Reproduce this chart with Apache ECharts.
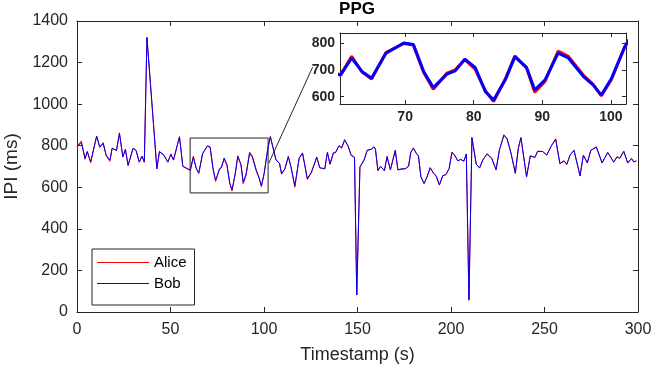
<!DOCTYPE html>
<html><head><meta charset="utf-8">
<script src="https://cdn.jsdelivr.net/npm/echarts@6/dist/echarts.min.js"></script>
<style>html,body{margin:0;padding:0;background:#fff}#c{width:653px;height:371px}</style>
</head><body><div id="c"></div>
<script>
const timestamps = [
0.2,2.3,4.3,5.5,7.3,10.5,12.2,14.0,15.6,17.6,
18.8,21.1,22.7,24.5,25.9,27.3,30.0,31.6,33.3,34.8,
36.0,37.4,42.7,44.1,46.3,48.6,50.2,51.6,54.8,56.6,
60.6,62.2,63.7,65.1,67.2,69.8,71.2,72.7,74.1,76.1,
77.3,78.7,80.2,81.7,82.9,84.6,86.0,87.7,88.9,90.4,
92.3,93.8,96.0,97.4,98.6,100.1,102.0,103.4,106.4,108.3,
109.4,111.2,113.0,114.4,116.5,118.8,120.6,123.2,125.4,128.2,
129.8,132.5,133.9,135.3,137.1,138.3,140.1,141.5,143.1,144.9,
146.6,148.4,149.6,151.3,153.5,155.2,157.4,158.8,159.6,160.9,
162.3,164.4,165.8,167.6,170.2,171.6,173.8,175.5,177.3,178.5,
179.9,181.4,182.6,183.9,185.6,187.1,188.9,190.6,192.0,193.8,
195.6,197.3,199.0,200.5,201.9,203.7,205.1,206.9,208.2,209.6,
211.2,213.5,215.3,217.0,219.3,221.8,224.1,225.9,228.3,230.0,
232.1,234.4,236.0,237.4,240.4,242.4,244.9,246.3,249.0,251.2,
253.7,256.0,258.2,260.5,261.9,263.7,265.8,269.0,270.8,272.9,
274.7,277.7,280.8,283.8,287.0,288.8,290.2,292.4,294.5,296.5,
297.7,299.1];
const bob = [
797,816,739,772,722,846,793,810,755,731,
788,777,859,747,783,706,788,777,722,750,
722,1320,689,772,755,722,760,731,843,701,
681,744,694,669,762,800,794,694,634,684,
696,740,709,619,588,663,748,709,625,663,
762,744,675,644,606,669,784,843,731,714,
665,689,747,698,607,739,764,640,673,744,
694,689,767,711,764,767,800,788,826,800,
755,744,82,698,731,777,783,793,783,681,
701,681,747,684,777,684,689,689,701,767,
788,764,750,651,619,648,694,668,656,612,
656,661,690,767,755,727,734,727,760,60,
838,711,694,731,760,739,684,780,850,833,
764,668,788,838,651,750,744,772,772,755,
800,830,714,727,711,755,777,656,755,717,
777,793,717,767,722,747,739,772,717,739,
722,727];
const alice = [
797,823,735,772,718,846,793,815,752,725,
788,777,862,745,783,704,788,777,720,750,
720,1322,689,772,757,720,760,731,843,701,
683,750,692,666,764,798,792,690,628,688,
700,738,703,622,582,666,752,707,617,657,
770,750,680,646,603,665,786,845,733,716,
663,689,749,700,600,741,766,638,673,746,
694,689,769,711,766,769,800,790,830,800,
753,744,82,696,731,779,783,795,783,679,
701,679,749,684,779,684,687,689,701,769,
790,764,752,649,617,648,694,668,656,610,
656,661,690,770,755,727,734,725,760,56,
840,711,692,731,762,739,684,780,853,833,
764,666,788,840,649,752,744,774,772,755,
800,833,714,727,709,755,779,654,755,717,
777,795,717,769,720,747,739,774,717,739,
722,727];
const seriesNames = ['Alice', 'Bob'];
const mainXTicks = [0, 50, 100, 150, 200, 250, 300];
const mainYTicks = [0, 200, 400, 600, 800, 1000, 1200, 1400];
const insetXRange = [60.5, 102.2];
const insetYRange = [573, 837];
const connectorEnds = [[102.5, 715], [126, 1178]];

const FONT = '"Liberation Sans", Arial, Helvetica, sans-serif';
const AX = '#262626';
const RED = '#ff0000', BLUE = '#0000ff';

const alicePts = timestamps.map((t, i) => [t, alice[i]]);
const bobPts = timestamps.map((t, i) => [t, bob[i]]);
const plain = v => String(v);

function mainX(pos, show) {
  return {
    type: 'value', gridIndex: 0, position: pos,
    min: mainXTicks[0], max: mainXTicks[mainXTicks.length - 1],
    interval: mainXTicks[1] - mainXTicks[0],
    axisLine: { show: true, onZero: false, lineStyle: { color: AX, width: 1 } },
    axisTick: { show: true, inside: true, length: 5, lineStyle: { color: AX } },
    axisLabel: { show: show, fontSize: 16, color: AX, fontFamily: FONT, margin: 10, formatter: plain },
    splitLine: { show: false }
  };
}
function mainY(pos, show) {
  return {
    type: 'value', gridIndex: 0, position: pos,
    min: mainYTicks[0], max: mainYTicks[mainYTicks.length - 1],
    interval: mainYTicks[1] - mainYTicks[0],
    axisLine: { show: true, onZero: false, lineStyle: { color: AX, width: 1 } },
    axisTick: { show: true, inside: true, length: 5, lineStyle: { color: AX } },
    axisLabel: { show: show, fontSize: 16, color: AX, fontFamily: FONT, margin: 9, formatter: plain },
    splitLine: { show: false }
  };
}
function insetX(pos, show) {
  return {
    type: 'value', gridIndex: 1, position: pos, z: 11,
    min: insetXRange[0], max: insetXRange[1], splitNumber: 4,
    axisLine: { show: true, onZero: false, lineStyle: { color: AX, width: 1 } },
    axisTick: { show: true, inside: true, length: 4, lineStyle: { color: AX } },
    axisLabel: { show: show, fontSize: 14, fontWeight: 'bold', color: AX, fontFamily: FONT, margin: 6,
      formatter: v => (Math.abs(v % 10) < 1e-6 ? String(v) : '') },
    splitLine: { show: false }
  };
}
function insetY(pos, show) {
  return {
    type: 'value', gridIndex: 1, position: pos, z: 11,
    min: insetYRange[0], max: insetYRange[1], splitNumber: 3,
    axisLine: { show: true, onZero: false, lineStyle: { color: AX, width: 1 } },
    axisTick: { show: true, inside: true, length: 4, lineStyle: { color: AX } },
    axisLabel: { show: show, fontSize: 14, fontWeight: 'bold', color: AX, fontFamily: FONT, margin: 5,
      formatter: v => (Math.abs(v % 100) < 1e-6 ? String(v) : '') },
    splitLine: { show: false }
  };
}

const xMain = mainX('bottom', true);
xMain.name = 'Timestamp (s)';
xMain.nameLocation = 'middle';
xMain.nameGap = 34;
xMain.nameTextStyle = { fontSize: 18, color: AX, fontFamily: FONT };
const yMain = mainY('left', true);
yMain.name = 'IPI (ms)';
yMain.nameLocation = 'middle';
yMain.nameGap = 47;
yMain.nameTextStyle = { fontSize: 19, color: AX, fontFamily: FONT };

const chart = echarts.init(document.getElementById('c'), null, { renderer: 'canvas' });
chart.setOption({
  animation: false,
  backgroundColor: '#fff',
  textStyle: { fontFamily: FONT },
  title: {
    text: 'PPG', left: 357, top: 1, padding: 0, textAlign: 'center',
    textStyle: { fontSize: 17, fontWeight: 'bold', color: '#000', fontFamily: FONT }
  },
  legend: {
    data: seriesNames, orient: 'vertical', left: 92, top: 249,
    padding: [6, 8, 14, 5], itemGap: 6, itemWidth: 52, itemHeight: 1, icon: 'rect',
    borderColor: AX, borderWidth: 1, backgroundColor: '#fff',
    textStyle: { fontSize: 15, color: '#000', fontFamily: FONT, lineHeight: 14 }
  },
  grid: [
    { left: 77, right: 15, top: 21, bottom: 59, containLabel: false, outerBoundsMode: 'none' },
    { left: 340, top: 33, width: 286, height: 71, containLabel: false, outerBoundsMode: 'none', show: true,
      backgroundColor: '#fff', borderWidth: 0, z: 10 }
  ],
  xAxis: [xMain, mainX('top', false), insetX('bottom', true), insetX('top', false)],
  yAxis: [yMain, mainY('right', false), insetY('left', true), insetY('right', false)],
  series: [
    { name: seriesNames[0], type: 'line', xAxisIndex: 0, yAxisIndex: 0, data: alicePts,
      symbol: 'none', showSymbol: false, color: RED, lineStyle: { color: RED, width: 1 }, z: 2 },
    { name: seriesNames[1], type: 'line', xAxisIndex: 0, yAxisIndex: 0, data: bobPts,
      symbol: 'none', showSymbol: false, color: BLUE, lineStyle: { color: BLUE, width: 1 }, z: 3,
      markArea: { silent: true,
        itemStyle: { color: 'rgba(0,0,0,0)', borderColor: AX, borderWidth: 1 },
        data: [[{ coord: [insetXRange[0], insetYRange[0]] }, { coord: [insetXRange[1], insetYRange[1]] }]] } },
    { name: seriesNames[0] + ' inset', type: 'line', xAxisIndex: 2, yAxisIndex: 2, data: alicePts,
      symbol: 'none', showSymbol: false, clip: true, color: RED, lineStyle: { color: RED, width: 3 }, z: 12 },
    { name: seriesNames[1] + ' inset', type: 'line', xAxisIndex: 2, yAxisIndex: 2, data: bobPts,
      symbol: 'none', showSymbol: false, clip: true, color: BLUE, lineStyle: { color: BLUE, width: 3 }, z: 13 }
  ]
});
const p1 = chart.convertToPixel({ xAxisIndex: 0, yAxisIndex: 0 }, connectorEnds[0]);
const p2 = chart.convertToPixel({ xAxisIndex: 0, yAxisIndex: 0 }, connectorEnds[1]);
chart.setOption({
  graphic: [{ type: 'line', z: 20, silent: true,
    shape: { x1: p1[0], y1: p1[1], x2: p2[0], y2: p2[1] },
    style: { stroke: AX, lineWidth: 1 } }]
});
</script>
</body></html>
